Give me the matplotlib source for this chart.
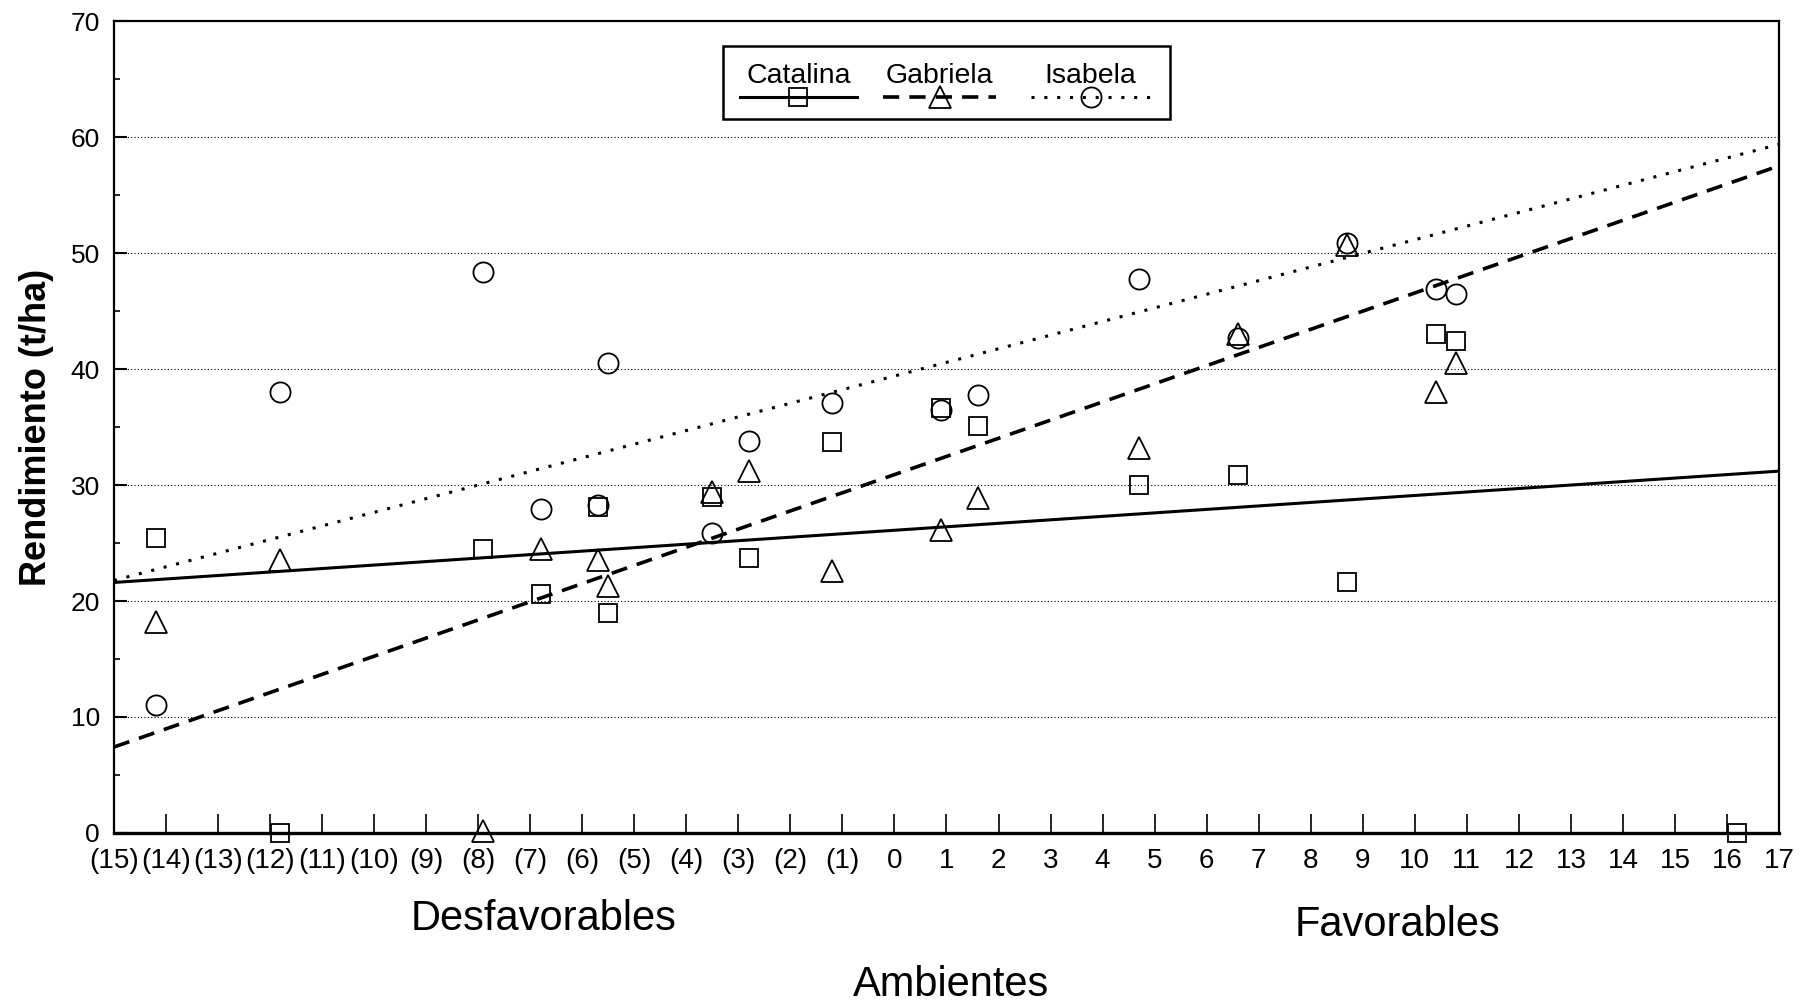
import numpy as np
import matplotlib
matplotlib.use("Agg")
import matplotlib.pyplot as plt
from matplotlib.lines import Line2D
from matplotlib.patches import Rectangle

plt.rcParams['font.family'] = ['Liberation Sans', 'DejaVu Sans']

# ambientes (indice ambiental) y rendimientos por variedad
ambientes = [-14.2, -11.8, -7.9, -6.8, -5.7, -5.5, -3.5, -2.8, -1.2,
             0.9, 1.6, 4.7, 6.6, 8.7, 10.4, 10.8, 16.2]
catalina = [25.4, 0.0, 24.5, 20.6, 28.1, 19.0, 29.0, 23.7, 33.7,
            36.6, 35.1, 30.0, 30.9, 21.6, 43.0, 42.4, 0.0]
gabriela = [18.2, 23.5, 0.2, 24.5, 23.5, 21.3, 29.4, 31.2, 22.6,
            26.1, 28.9, 33.2, 43.0, 50.7, 38.0, 40.5]
isabela = [11.0, 38.0, 48.4, 27.9, 28.3, 40.5, 25.9, 33.8, 37.1,
           36.5, 37.8, 47.8, 42.7, 50.9, 46.9, 46.5]

# rectas de regresion (intercepto, pendiente)
nombres = ["Catalina", "Gabriela", "Isabela"]
interceptos = [26.1, 30.9, 39.4]
pendientes = [0.30, 1.566, 1.175]

x_ticks = list(range(-15, 18))
x_labels = [f"({-t})" if t < 0 else str(t) for t in x_ticks]

fig = plt.figure(figsize=(18.12, 10.06), dpi=100)
ax = fig.add_axes([0.0629, 0.172, 0.9189, 0.807])

# grid
for g in range(10, 70, 10):
    ax.axhline(g, color="black", lw=0.8, ls=(0, (1, 2)), zorder=0)

# regression lines
xr = np.array([-15, 17])
styles = [
    dict(ls="-", lw=2.2),
    dict(ls=(0, (4.5, 2.8)), lw=2.6),
    dict(ls=(0, (1, 3.2)), lw=2.2),
]
for b0, b1, st in zip(interceptos, pendientes, styles):
    ax.plot(xr, b0 + b1 * xr, color="black", **st)

mk = dict(ls="none", mfc="none", mec="black", mew=1.3, clip_on=False)
ax.plot(ambientes, catalina, marker="s", ms=13.5, **mk)
ax.plot(ambientes[:len(gabriela)], gabriela, marker="^", ms=16, **mk)
ax.plot(ambientes[:len(isabela)], isabela, marker="o", ms=14.5, **mk)

ax.set_xlim(-15, 17)
ax.set_ylim(0, 70)
ax.set_xticks(x_ticks)
ax.set_xticklabels(x_labels)
ax.set_yticks(range(0, 80, 10))
ax.set_yticks(range(5, 70, 10), minor=True)
ax.tick_params(axis="x", direction="in", length=14, width=1.2, pad=11,
               labelsize=20)
ax.tick_params(axis="y", which="major", direction="in", length=9, width=1.5,
               pad=10, labelsize=19)
ax.tick_params(axis="y", which="minor", direction="in", length=4, width=1.2)
for s in ax.spines.values():
    s.set_linewidth(1.6)
ax.spines["bottom"].set_linewidth(2.4)

ax.set_ylabel("Rendimiento (t/ha)", fontsize=26, fontweight="bold", labelpad=12)

fig.text(0.300, 0.086, "Desfavorables", fontsize=30, ha="center", va="center")
fig.text(0.771, 0.081, "Favorables", fontsize=30, ha="center", va="center")
fig.text(0.525, 0.021, "Ambientes", fontsize=30, ha="center", va="center")

# legend (labels above the line samples)
ax.add_patch(Rectangle((0.366, 0.879), 0.268, 0.090, transform=ax.transAxes,
                       fill=True, facecolor="white", edgecolor="black",
                       lw=1.8, zorder=5))
leg_x = [(0.376, 0.446), (0.462, 0.530), (0.551, 0.622)]
leg_mk = [("s", 13.5), ("^", 16), ("o", 14.5)]
for name, (x0, x1), (m, ms), st in zip(nombres, leg_x, leg_mk, styles):
    xc = (x0 + x1) / 2
    ax.text(xc, 0.933, name, transform=ax.transAxes, fontsize=20.5,
            ha="center", va="center", zorder=6)
    ax.add_line(Line2D([x0, x1], [0.906, 0.906], transform=ax.transAxes,
                       color="black", zorder=6, **st))
    ax.add_line(Line2D([xc], [0.906], transform=ax.transAxes, marker=m,
                       ms=ms, mfc="none", mec="black", mew=1.3, zorder=6))

fig.savefig("out.png", dpi=100)
